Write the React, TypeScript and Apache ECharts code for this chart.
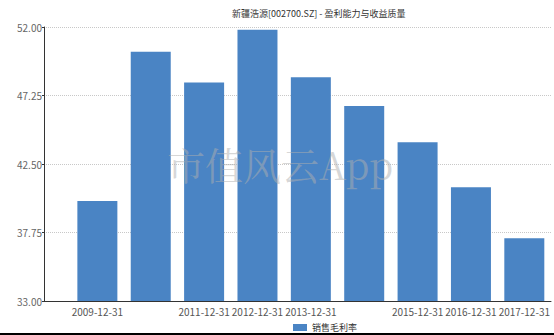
import React, { useEffect, useRef } from "react";
import * as echarts from "echarts";

const titleText = "新疆浩源[002700.SZ] - 盈利能力与收益质量";
const seriesName = "销售毛利率";
const categories = [
  "2009-12-31",
  "2010-12-31",
  "2011-12-31",
  "2012-12-31",
  "2013-12-31",
  "2014-12-31",
  "2015-12-31",
  "2016-12-31",
  "2017-12-31",
];
const shownLabels = [true, false, true, true, true, false, true, true, true];
const grossMargin = [39.93, 50.29, 48.16, 51.81, 48.51, 46.52, 44.0, 40.88, 37.35];
const yMin = 33;
const yMax = 52;
const yInterval = 4.75;
const watermark = "市值风云App";

export default function App() {
  const ref = useRef<HTMLDivElement>(null);
  useEffect(() => {
    document.body.style.margin = "0";
    const chart = echarts.init(ref.current!, null, { renderer: "svg" });
    const font = "'Noto Sans CJK SC', 'Open Sans', sans-serif";
    chart.setOption({
      animation: false,
      textStyle: { fontFamily: font },
      title: {
        text: titleText,
        left: 227,
        top: 4,
        textStyle: { fontSize: 9, fontWeight: "normal", color: "#333", fontFamily: font },
      },
      legend: {
        left: 288,
        top: 318,
        itemWidth: 14,
        itemHeight: 7,
        itemGap: 4,
        icon: "rect",
        textStyle: { fontSize: 9, color: "#333", fontFamily: font },
        data: [seriesName],
      },
      grid: { left: 44, right: 1, top: 27, bottom: 34, containLabel: false },
      xAxis: {
        type: "value",
        min: -1,
        max: categories.length - 0.5,
        interval: 1,
        axisLine: { show: true, onZero: false, lineStyle: { color: "#333", width: 1 } },
        axisTick: { show: false },
        splitLine: { show: false },
        axisLabel: {
          fontSize: 10,
          color: "#555",
          margin: 5,
          showMinLabel: true,
          showMaxLabel: true,
          hideOverlap: false,
          formatter: (v: number) => {
            const i = Math.round(v);
            if (Math.abs(v - i) > 1e-6 || i < 0 || i >= categories.length) return "";
            return shownLabels[i] ? categories[i] : "";
          },
        },
      },
      yAxis: {
        type: "value",
        min: yMin,
        max: yMax,
        interval: yInterval,
        axisLine: { show: true, onZero: false, lineStyle: { color: "#333", width: 1 } },
        axisTick: { show: true, length: 2, lineStyle: { color: "#333" } },
        splitLine: { show: true, lineStyle: { type: "dotted", color: "#c8c8c8" } },
        axisLabel: {
          fontSize: 10,
          color: "#666",
          margin: 2,
          formatter: (v: number) => v.toFixed(2),
        },
      },
      series: [
        {
          name: seriesName,
          type: "bar",
          barWidth: 40,
          itemStyle: { color: "#4A84C4" },
          data: grossMargin.map((v, i) => [i, v]),
        },
      ],
      graphic: [
        {
          type: "text",
          left: 167,
          top: 144,
          z: 100,
          style: {
            text: watermark,
            fontSize: 38,
            fontFamily: "'Noto Serif CJK SC', 'Noto Sans CJK SC', serif",
            fill: "rgba(175,175,175,0.5)",
          },
        },
        {
          type: "rect",
          left: 0,
          top: 333,
          shape: { width: 554, height: 2 },
          style: { fill: "#000" },
        },
      ],
    });
    return () => chart.dispose();
  }, []);
  return (
    <div
      ref={ref}
      style={{ position: "fixed", left: 0, top: 0, width: 554, height: 335, background: "#fff" }}
    />
  );
}
